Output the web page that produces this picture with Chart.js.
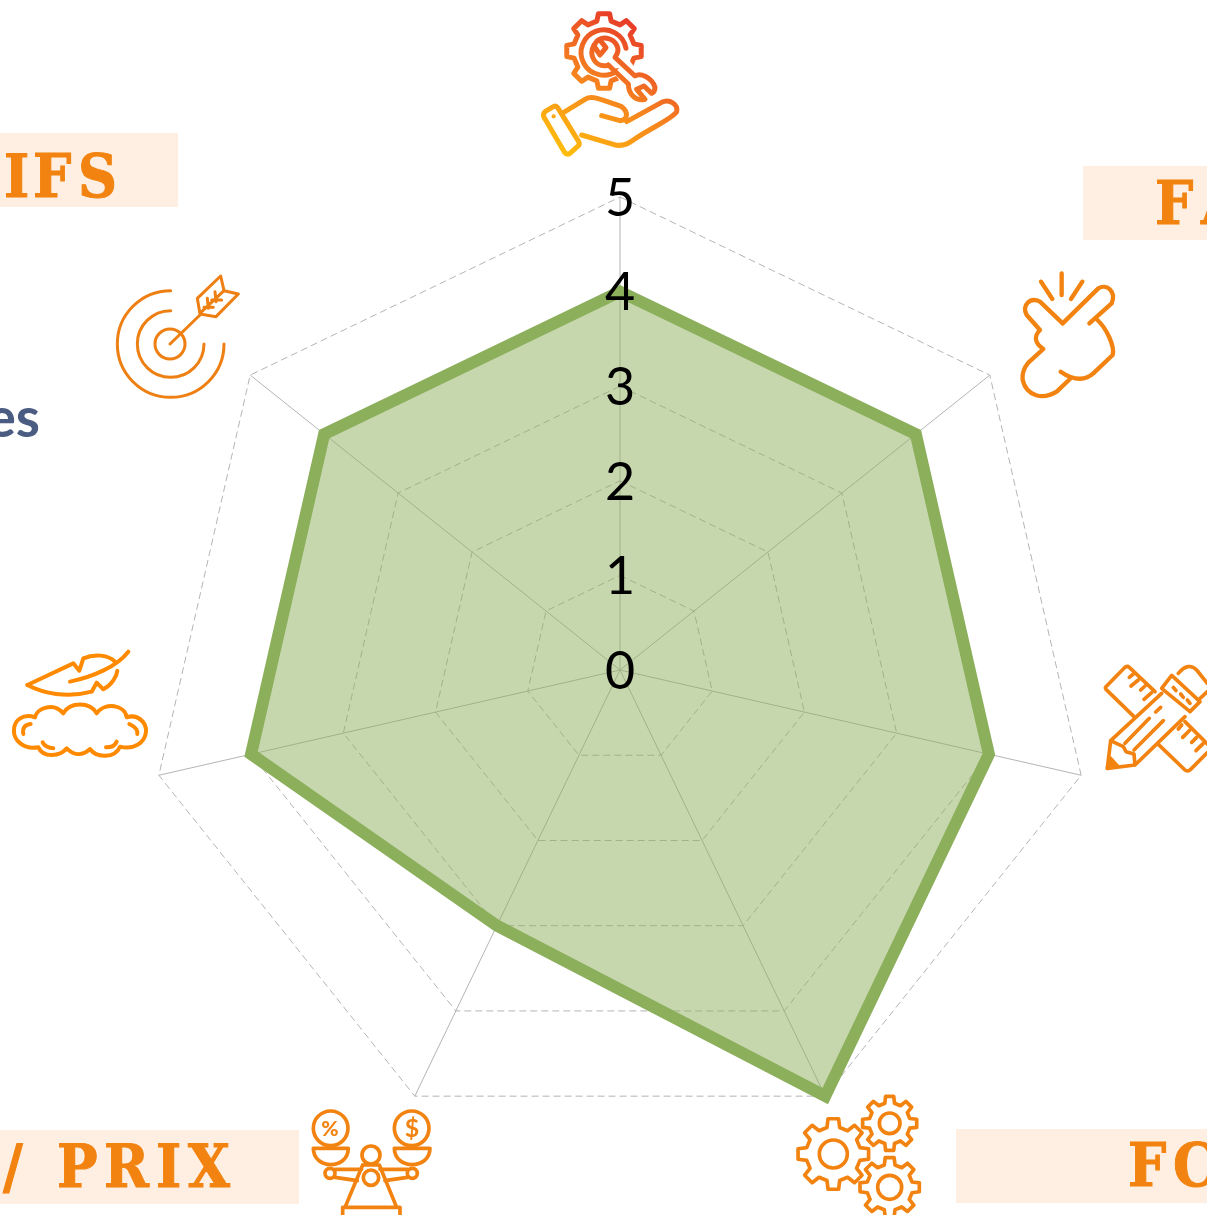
<!DOCTYPE html>
<html lang="fr">
<head>
<meta charset="utf-8">
<title>Radar</title>
<script src="https://cdn.jsdelivr.net/npm/chart.js@4"></script>
<style>
html,body{margin:0;padding:0;background:#fff;overflow:hidden;width:1207px;height:1215px}
#wrap{position:relative;width:1207px;height:1215px;overflow:hidden}
canvas{position:absolute;left:0;top:0}
svg{position:absolute;left:0;top:0;pointer-events:none}
.lab{font-family:"DejaVu Serif Condensed","DejaVu Serif",serif;font-weight:700;font-size:60px;fill:#F28310;stroke:#F28310;stroke-width:1;font-stretch:condensed}
.ic{fill:none;stroke:#F28310;stroke-linecap:round;stroke-linejoin:round}
</style>
</head>
<body>
<div id="wrap">
<canvas id="c" width="1207" height="1215"></canvas>
<svg id="s" width="1207" height="1215" viewBox="0 0 1207 1215" xmlns="http://www.w3.org/2000/svg">
<defs>
<linearGradient id="g1" gradientUnits="userSpaceOnUse" x1="130" y1="465" x2="370" y2="60">
<stop offset="0" stop-color="#FFBE0B"/><stop offset=".5" stop-color="#F5821F"/><stop offset="1" stop-color="#E6332A"/>
</linearGradient>
</defs>
<g fill="#FEEFE2">
<rect x="0" y="133" width="178" height="74"/>
<rect x="1083" y="166" width="124" height="74"/>
<rect x="956" y="1129" width="251" height="74"/>
<rect x="0" y="1130" width="299" height="74"/>
</g>
<text class="lab" x="4 33 78" y="197">IFS</text>
<text class="lab" x="1155 1201" y="224">FA</text>
<text class="lab" x="1128 1173" y="1186">FC</text>
<text class="lab" x="3 57 104 156 188" y="1187">/PRIX</text>
<text x="40" y="437" text-anchor="end" font-family="Lato" font-weight="700" font-size="55" fill="#4A5C82">es</text>

<!-- service icon -->
<g class="ic" transform="translate(520,0) scale(.33333)" style="stroke:url(#g1)" stroke-width="15">
<path id="g1gear"/>
<path d="M292 212A68 68 0 1 1 318 145"/>
<path d="M222 135C205 165 225 205 265 196"/>
<path d="M305 200L345 255" style="stroke:#fff" stroke-width="60" stroke-linecap="butt"/>
<path d="M238 118L258 143L240 165L222 138C228 125 232 120 238 118C255 108 285 118 292 140C298 155 290 165 285 172L345 228C360 218 395 230 405 262C405 272 400 278 395 280L372 258L350 268L375 298C350 305 325 285 325 252L265 195"/>
<path d="M130 338L195 298C215 285 235 295 305 320C325 335 325 360 300 362L245 347"/>
<path d="M320 365L425 307C450 295 475 315 470 335C460 355 390 385 340 420C320 435 300 440 280 433L185 405"/>
<path d="M75 335L100 320Q108 316 113 323L176 425Q181 434 172 440L150 460Q140 466 133 456L72 352Q68 342 75 335Z"/>
<circle cx="101" cy="349" r="4" style="fill:url(#g1)" stroke-width="5"/>
</g>

<!-- snap icon -->
<g class="ic" transform="translate(1000,150) scale(.33333)" stroke-width="13">
<path d="M188 520L295 415C320 400 350 425 335 460L268 520"/>
<path d="M292 510C320 535 345 590 338 615L280 670C260 690 225 695 182 665"/>
<path d="M210 687L170 725C130 750 80 740 68 690C65 665 75 650 85 638L130 597C105 580 100 560 120 540L80 495C65 465 90 440 120 455L188 520"/>
<path d="M185 370V435M123 395L157 447M247 395L213 447"/>
</g>

<!-- ruler + pencil -->
<g class="ic" transform="translate(1090,650) scale(.33333)" stroke-width="11">
<path d="M132 200L48 118Q44 113 50 108L105 52Q112 47 118 52L195 125"/>
<path d="M130 72L118 82M145 90L123 108M165 108L152 120M185 128L162 148"/>
<path d="M285 215L352 282M205 283L285 360Q295 366 302 358L352 308"/>
<path d="M275 225L265 237M300 240L278 262M320 262L305 277M340 280L318 302"/>
<path d="M62 272L215 130M135 345L285 200M52 355L62 272L100 290L108 305L132 312L135 345Z"/>
<path d="M212 172L197 186M178 205L105 280M220 212L132 300"/>
<path d="M52 355L62 325L82 348Z" style="fill:#F28310"/>
<path d="M215 115L245 76L330 155L300 185Z"/>
<path d="M265 70Q295 35 320 60L352 100M352 125L325 150"/>
<path d="M250 112L258 122M272 132L280 142M292 150L300 160"/>
</g>

<!-- gears -->
<g class="ic" transform="translate(780,1080) scale(.33333)" stroke-width="11">
<path id="ga"/><circle cx="160" cy="222" r="42"/>
<path id="gb"/><circle cx="329" cy="130" r="31"/>
<path id="gc"/><circle cx="329" cy="322" r="36"/>
</g>

<!-- scale -->
<g class="ic" transform="translate(0,1090) scale(.33333)" stroke-width="11">
<circle cx="992" cy="115" r="52"/><circle cx="1235" cy="115" r="52"/>
<path d="M940 175H1045C1045 240 940 240 940 175ZM1183 175H1290C1290 240 1183 240 1183 175Z"/>
<circle cx="1113" cy="195" r="27"/><circle cx="1113" cy="263" r="23"/>
<path d="M1088 225H1138L1190 352M1088 225L1035 352M1028 375V352H1200V375"/>
<path d="M1005 238H1085M1005 262L1072 272M1222 238H1140M1222 262L1155 272"/>
<circle cx="990" cy="250" r="15"/><circle cx="1237" cy="250" r="15"/>
</g>
<text x="330" y="1136" text-anchor="middle" font-family="Lato" font-weight="900" font-size="21" fill="#F28310">%</text>
<text x="412" y="1137" text-anchor="middle" font-family="Lato" font-weight="700" font-size="25" fill="#F28310">$</text>

<!-- feather + cloud -->
<g class="ic" transform="translate(0,630) scale(.33333)" stroke-width="12" style="stroke:#FF8A00">
<path d="M82 165L220 100L238 122L250 85C285 70 325 75 345 95"/>
<path d="M82 165C130 190 200 205 275 185L290 158L310 178C335 165 350 140 352 122"/>
<path d="M210 155C280 140 350 110 385 65"/>
<path d="M115 352C70 360 40 330 42 300C42 270 70 250 105 262C110 235 160 215 190 250C210 215 270 215 290 250C315 215 375 225 380 262C415 250 440 280 438 305C435 340 400 360 360 350C345 385 290 385 270 357C245 380 220 375 200 355C180 380 130 385 115 352Z"/>
<path d="M92 282Q65 285 70 312M128 337Q135 352 160 355M388 282Q415 295 412 312M350 335Q345 352 318 352"/>
</g>

<!-- target -->
<g class="ic" transform="translate(0,120) scale(.33333)" stroke-width="9" style="stroke:#EE7F12">
<path d="M512 512A160 160 0 1 0 672 672M512 572A100 100 0 1 0 612 672"/>
<circle cx="510" cy="672" r="45"/>
<path d="M510 672L600 585"/>
<path d="M600 582L592 535L662 468L672 512L715 522L648 590Z"/>
<path d="M605 575L672 512M622 535L625 565M645 515L648 545M665 540L635 540M640 562L612 562"/>
</g>
</svg>
</div>
<script>
// Data
const categories = ['Service', 'FA', 'Outils', 'FC', '/ PRIX', 'Légèreté', 'IFS'];
const seriesValues = [4, 4, 4, 5, 3, 4, 4];
const tickValues = [0, 1, 2, 3, 4, 5];

function gearPath(cx, cy, ro, rr, n, phase) {
  let d = '';
  const step = 2 * Math.PI / n;
  for (let i = 0; i < n; i++) {
    const a = phase + i * step;
    const pts = [[rr, -0.30], [ro, -0.19], [ro, 0.19], [rr, 0.30]];
    pts.forEach(([r, f]) => {
      const t = a + f * step;
      d += (d ? 'L' : 'M') + (cx + r * Math.cos(t)).toFixed(1) + ' ' + (cy + r * Math.sin(t)).toFixed(1);
    });
  }
  return d + 'Z';
}
document.getElementById('g1gear').setAttribute('d', gearPath(252, 153, 113, 92, 8, -Math.PI / 2));
document.getElementById('ga').setAttribute('d', gearPath(160, 222, 107, 82, 8, -Math.PI / 2));
document.getElementById('gb').setAttribute('d', gearPath(329, 130, 82, 62, 8, -Math.PI / 2));
document.getElementById('gc').setAttribute('d', gearPath(329, 322, 90, 69, 8, -Math.PI / 2));

const tickFont = { family: 'Lato', size: 52, weight: '400' };

// Chart.js skips the first radial tick label and centres on the line box,
// so the labels are placed from the scale, on top of the filled area.
const tickLabels = {
  id: 'tickLabels',
  afterDatasetsDraw(chart) {
    const r = chart.scales.r;
    const ctx = chart.ctx;
    ctx.save();
    ctx.font = `${tickFont.weight} ${tickFont.size}px ${tickFont.family}`;
    ctx.fillStyle = '#000';
    ctx.textAlign = 'center';
    ctx.textBaseline = 'middle';
    r.ticks.forEach(t => {
      const p = r.getPointPositionForValue(0, t.value);
      ctx.fillText(String(t.value), p.x, p.y + 2);
    });
    ctx.restore();
  }
};

new Chart(document.getElementById('c'), {
  type: 'radar',
  data: {
    labels: categories,
    datasets: [{
      data: seriesValues,
      borderColor: '#8CAF5B',
      backgroundColor: 'rgba(142,176,92,0.5)',
      borderWidth: 12,
      borderJoinStyle: 'miter',
      fill: true,
      tension: 0,
      pointRadius: 0,
      pointHoverRadius: 0,
      clip: false
    }]
  },
  plugins: [tickLabels],
  options: {
    responsive: false,
    animation: false,
    devicePixelRatio: 1,
    layout: { padding: { left: 147, right: 114, top: 197, bottom: 72 } },
    plugins: { legend: { display: false }, tooltip: { enabled: false } },
    scales: {
      r: {
        min: tickValues[0],
        max: tickValues[tickValues.length - 1],
        startAngle: 0,
        ticks: { stepSize: 1, display: false },
        pointLabels: { display: false },
        angleLines: { display: true, color: '#B4B4B4', lineWidth: 1 },
        grid: { circular: false, color: '#B4B4B4', lineWidth: 1 },
        border: { dash: [7, 4] }
      }
    }
  }
});
</script>
</body>
</html>
